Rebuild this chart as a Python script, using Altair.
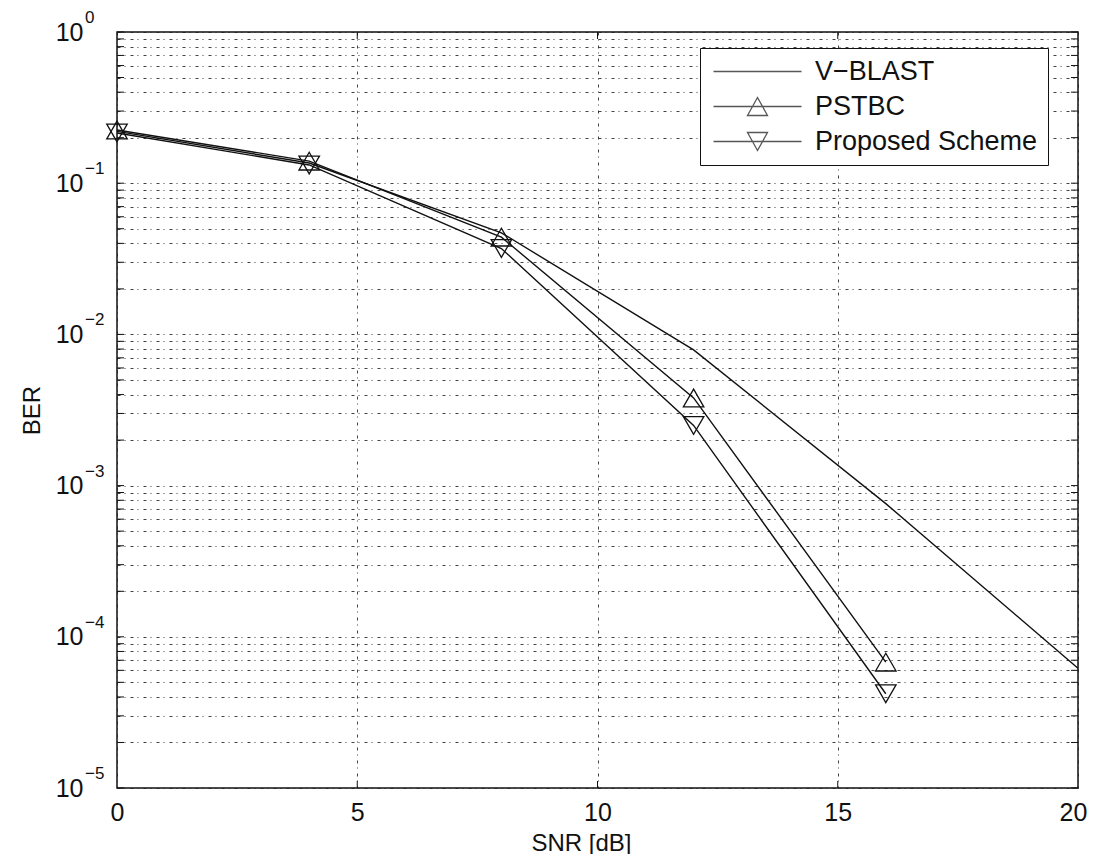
import altair as alt
import pandas as pd

# ---- data ----
snr = [0, 4, 8, 12, 16, 20]
vblast_ber = [0.22, 0.136, 0.047, 0.0079, 0.00076, 0.000062]
pstbc_snr = [0, 4, 8, 12, 16]
pstbc_ber = [0.225, 0.140, 0.044, 0.0038, 0.000068]
proposed_snr = [0, 4, 8, 12, 16]
proposed_ber = [0.215, 0.132, 0.037, 0.0025, 0.000042]
series_names = ["V\u2212BLAST", "PSTBC", "Proposed Scheme"]

x_ticks = [0, 5, 10, 15, 20]
y_decades = [1e-5, 1e-4, 1e-3, 1e-2, 1e-1, 1.0]
y_mantissa = "10"
y_exponents = ["\u22125", "\u22124", "\u22123", "\u22122", "\u22121", "0"]
y_grid = [round(k * 10.0 ** e, 12) for e in range(-5, 0) for k in range(1, 10)] + [1.0]

FONT = "Liberation Sans"
INK = "#111111"
W, H = 961, 756

df_lines = pd.DataFrame({
    "snr": snr + pstbc_snr + proposed_snr,
    "ber": vblast_ber + pstbc_ber + proposed_ber,
    "series": [series_names[0]] * len(snr) + [series_names[1]] * len(pstbc_snr)
    + [series_names[2]] * len(proposed_snr),
})
df_marks = df_lines[df_lines["series"] != series_names[0]]

label_expr = ""
for v in y_decades:
    label_expr += f"datum.value == {v!r} ? '{y_mantissa}' : "
label_expr += "''"

xscale = alt.Scale(domain=[0, 20], nice=False, zero=False)
yscale = alt.Scale(type="log", domain=[1e-5, 1], nice=False)

grid_dash = [3, 4, 1, 5]
GRID = "#222222"

x_axis = alt.Axis(
    values=x_ticks, grid=True, gridDash=grid_dash, gridColor=GRID, gridOpacity=0.85,
    ticks=False, domain=False, labelFontSize=25, labelFont=FONT, labelColor=INK,
    labelPadding=12, labelFlush=False, labelOverlap=False,
    labelOffset={"condition": {"test": f"datum.value == {x_ticks[-1]}", "value": -5}, "value": 0},
    title="SNR [dB]", titleFont=FONT, titleFontSize=24, titleFontWeight="normal",
    titleColor=INK, titleX=464, titleY=62, titleBaseline="alphabetic", titleAlign="center",
)
y_axis = alt.Axis(
    values=y_grid, labelExpr=label_expr, grid=True, gridDash=grid_dash, gridColor=GRID,
    gridOpacity=0.85, ticks=False, domain=False, labelFontSize=25, labelFont=FONT,
    labelColor=INK, labelPadding=34, labelOverlap=False, labelBound=False,
    title="BER", titleFont=FONT, titleFontSize=24, titleFontWeight="normal",
    titleColor=INK, titleX=-85, titleY=378, titleAngle=270, titleBaseline="middle",
    titleAlign="center",
)

lines = alt.Chart(df_lines).mark_line(color=INK, strokeWidth=1.4).encode(
    x=alt.X("snr:Q", scale=xscale, axis=x_axis),
    y=alt.Y("ber:Q", scale=yscale, axis=y_axis),
    detail="series:N",
    order="snr:Q",
)

markers = alt.Chart(df_marks).mark_point(
    filled=False, color=INK, strokeWidth=1.3, size=420, opacity=1
).encode(
    x=alt.X("snr:Q", scale=xscale),
    y=alt.Y("ber:Q", scale=yscale),
    shape=alt.Shape("series:N", scale=alt.Scale(domain=series_names[1:],
                                                range=["triangle-up", "triangle-down"]),
                    legend=None),
)

legend_paths = [
    "M-1,0L7.8,0",
    "M-1,0L7.8,0M2.4,0.9L3.4,-0.9L4.4,0.9Z",
    "M-1,0L7.8,0M2.4,-0.9L3.4,0.9L4.4,-0.9Z",
]
legend_layer = alt.Chart(df_lines).transform_filter("false").mark_point(
    filled=False, color=INK, strokeWidth=1.3
).encode(
    x=alt.X("snr:Q", scale=xscale),
    y=alt.Y("ber:Q", scale=yscale),
    shape=alt.Shape("series:N", scale=alt.Scale(domain=series_names, range=legend_paths),
                    legend=alt.Legend(
                        orient="none", legendX=583, legendY=16, title=None,
                        padding=10, rowPadding=7, labelOffset=78, symbolSize=400,
                        symbolStrokeWidth=1.3, symbolStrokeColor=INK,
                        symbolFillColor="transparent",
                        labelFontSize=27, labelFont=FONT, labelColor=INK, labelLimit=500,
                        strokeColor=INK, fillColor="white", cornerRadius=0,
                    )),
)

# exponent part of the y tick labels (10^k)
df_exp = pd.DataFrame({"ber": y_decades, "exp": y_exponents})
exponents = alt.Chart(df_exp).mark_text(
    align="left", baseline="middle", fontSize=17, font=FONT, color=INK, dy=-14
).encode(
    y=alt.Y("ber:Q", scale=yscale), x=alt.value(-32), text="exp:N")

df_yt = pd.DataFrame({"ber": y_grid})
df_xt = pd.DataFrame({"snr": x_ticks[1:-1]})
tick_len = 7
yt_left = alt.Chart(df_yt).mark_rule(color=INK, strokeWidth=1).encode(
    y=alt.Y("ber:Q", scale=yscale), x=alt.value(0), x2=alt.value(tick_len))
yt_right = alt.Chart(df_yt).mark_rule(color=INK, strokeWidth=1).encode(
    y=alt.Y("ber:Q", scale=yscale), x=alt.value(W - tick_len), x2=alt.value(W))
xt_bottom = alt.Chart(df_xt).mark_rule(color=INK, strokeWidth=1).encode(
    x=alt.X("snr:Q", scale=xscale), y=alt.value(H), y2=alt.value(H - tick_len))
xt_top = alt.Chart(df_xt).mark_rule(color=INK, strokeWidth=1).encode(
    x=alt.X("snr:Q", scale=xscale), y=alt.value(0), y2=alt.value(tick_len))

chart = alt.layer(
    lines, yt_left, yt_right, xt_bottom, xt_top, markers, exponents, legend_layer
).resolve_scale(shape="independent").properties(
    width=W, height=H,
    autosize=alt.AutoSizeParams(type="none"),
    padding={"left": 109, "top": 24, "right": 10, "bottom": 66},
    background="white",
).configure_view(stroke=INK, strokeWidth=1.5)

chart.save("out.html", embed_options={"renderer": "svg", "actions": False})
